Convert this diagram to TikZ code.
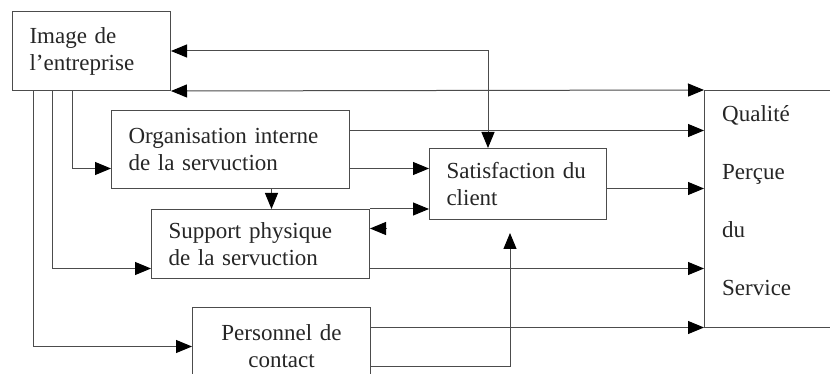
\documentclass[tikz,border=0pt]{standalone}
\usepackage{fontspec}
\setmainfont{Liberation Serif}
\usetikzlibrary{arrows.meta}
\begin{document}
\begin{tikzpicture}[x=1pt,y=-1pt,
  ln/.style={line width=1pt, draw=black!70},
  txt/.style={font=\fontsize{23}{27}\selectfont, text=black!85},
  box/.style={ln, txt, rectangle, inner ysep=0pt, inner xsep=17pt, anchor=north west, align=left},
  arr/.style={ln, -{Triangle[length=16pt,width=13pt,color=black]}},
  biarr/.style={ln, {Triangle[length=16pt,width=13pt,color=black]}-{Triangle[length=16pt,width=13pt,color=black]}}]
\clip (0,0) rectangle (830,374);
\fill[white] (0,0) rectangle (830,374);

% boxes
\node[box, text width=124pt, minimum height=79pt] (img) at (12,11) {Image de\\l’entreprise};
\node[box, text width=204pt, minimum height=78pt] (org) at (111,110) {Organisation interne\\de la servuction};
\node[box, text width=143pt, minimum height=71pt] (sat) at (429,148) {Satisfaction du\\client};
\node[box, text width=184pt, minimum height=69pt] (sup) at (151,209) {Support physique\\de la servuction};
\node[box, text width=144pt, minimum height=78pt, align=center] (per) at (192,307) {Personnel de\\contact};
\node[ln, rectangle, inner sep=0pt, anchor=north west, minimum width=200pt, minimum height=237pt] (qual) at (704,90) {};
\node[txt, font=\fontsize{23}{58}\selectfont, inner sep=0pt, anchor=north west, align=left] (qualtxt)
  at ([xshift=18pt, yshift=-15pt]qual.north west) {Qualité\\Perçue\\du\\Service};

% feedback links towards the image of the firm
\draw[biarr] (img.east) -| ([xshift=59pt]sat.north west);
\draw[biarr] (img.south east) -- (qual.north west);

% links leaving the image of the firm
\draw[arr] ([xshift=60pt]img.south west) |- ([yshift=-19pt]org.west);
\draw[arr] ([xshift=40pt]img.south west) |- ([yshift=-24.5pt]sup.west);
\draw[arr] ([xshift=21pt]img.south west) |- (per.west);

% internal organisation
\draw[arr] ([yshift=19pt]org.east) coordinate (o1) -- (o1 -| qual.west);
\draw[arr] ([yshift=-19pt]org.east) coordinate (o2) -- (o2 -| sat.west);
\draw[arr] ([xshift=41pt]org.south) coordinate (o3) -- (o3 |- sup.north);

% physical support
\draw[arr] (sup.north east) -- (sup.north east -| sat.west);
\draw[arr] ([xshift=17pt, yshift=15.5pt]sup.east) -- ([yshift=15.5pt]sup.east);
\draw[arr] ([yshift=-24.5pt]sup.east) coordinate (s1) -- (s1 -| qual.west);

% client satisfaction
\draw[arr] ([yshift=-4.5pt]sat.east) coordinate (c1) -- (c1 -| qual.west);

% contact staff
\draw[arr] ([yshift=19pt]per.east) coordinate (p1) -- (p1 -| qual.west);
\draw[arr] ([yshift=-20pt]per.east) -| ([xshift=81pt, yshift=-13pt]sat.south west);
\end{tikzpicture}
\end{document}
